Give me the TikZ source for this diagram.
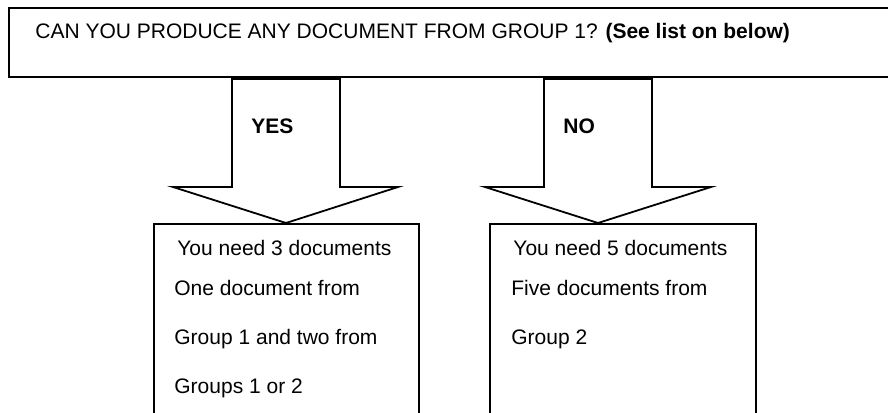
\documentclass[tikz,border=0pt]{standalone}
\usepackage{fontspec}
\setmainfont{Liberation Sans}
\usetikzlibrary{positioning, calc}

\begin{document}
\begin{tikzpicture}[
    x=0.5pt, y=-0.5pt,
    % Box styles
    questionbox/.style={rectangle, draw=black, line width=1.1pt, inner sep=0pt,
        minimum width=440.5pt, minimum height=34.5pt},
    answerbox/.style={rectangle, draw=black, line width=0.9pt, inner sep=0pt, anchor=north west,
        minimum height=103.5pt},
    % Block arrow style
    blockarrow/.style={draw=black, line width=0.9pt, fill=white, line join=miter},
    % Text styles
    linetext/.style={anchor=base west, inner sep=0pt, font=\fontsize{10.5}{12.6}\selectfont},
    armlabel/.style={anchor=base west, inner sep=0pt, font=\fontsize{10.5}{12.6}\selectfont\bfseries}
]

    % frame of the page (box edges run past it)
    \clip (0,0) rectangle (888,412);

    % === QUESTION ===
    \node[questionbox] (qbox) at (449.5,42.5) {};
    \node[linetext] (qtext) at (35,38) {CAN YOU PRODUCE ANY DOCUMENT FROM GROUP 1? \textbf{(See list on below)}};

    % === ANSWER BOXES ===
    \node[answerbox, minimum width=132.5pt] (yesbox) at (153,223) {};
    \node[answerbox, minimum width=133pt] (nobox) at (489,223) {};

    % === BLOCK ARROWS ===
    \coordinate (yestip) at (286,223);
    \coordinate (notip) at (598,223);
    \draw[blockarrow] (232,79) -- (232,187) -- (173,187) -- (yestip)
        -- (398,187) -- (340,187) -- (340,79) -- cycle;
    \draw[blockarrow] (544,79) -- (544,187) -- (485,187) -- (notip)
        -- (711,187) -- (652,187) -- (652,79) -- cycle;

    \node[armlabel] (yeslabel) at (251,133) {YES};
    \node[armlabel] (nolabel) at (563,133) {NO};

    % === YES TEXT ===
    \node[linetext] (y1) at (177,255) {You need 3 documents};
    \node[linetext] (y2) at (174,295) {One document from};
    \node[linetext] (y3) at (174,344) {Group 1 and two from};
    \node[linetext] (y4) at (174,393) {Groups 1 or 2};

    % === NO TEXT ===
    \node[linetext] (n1) at (513,255) {You need 5 documents};
    \node[linetext] (n2) at (511,295) {Five documents from};
    \node[linetext] (n3) at (511,344) {Group 2};

\end{tikzpicture}
\end{document}
